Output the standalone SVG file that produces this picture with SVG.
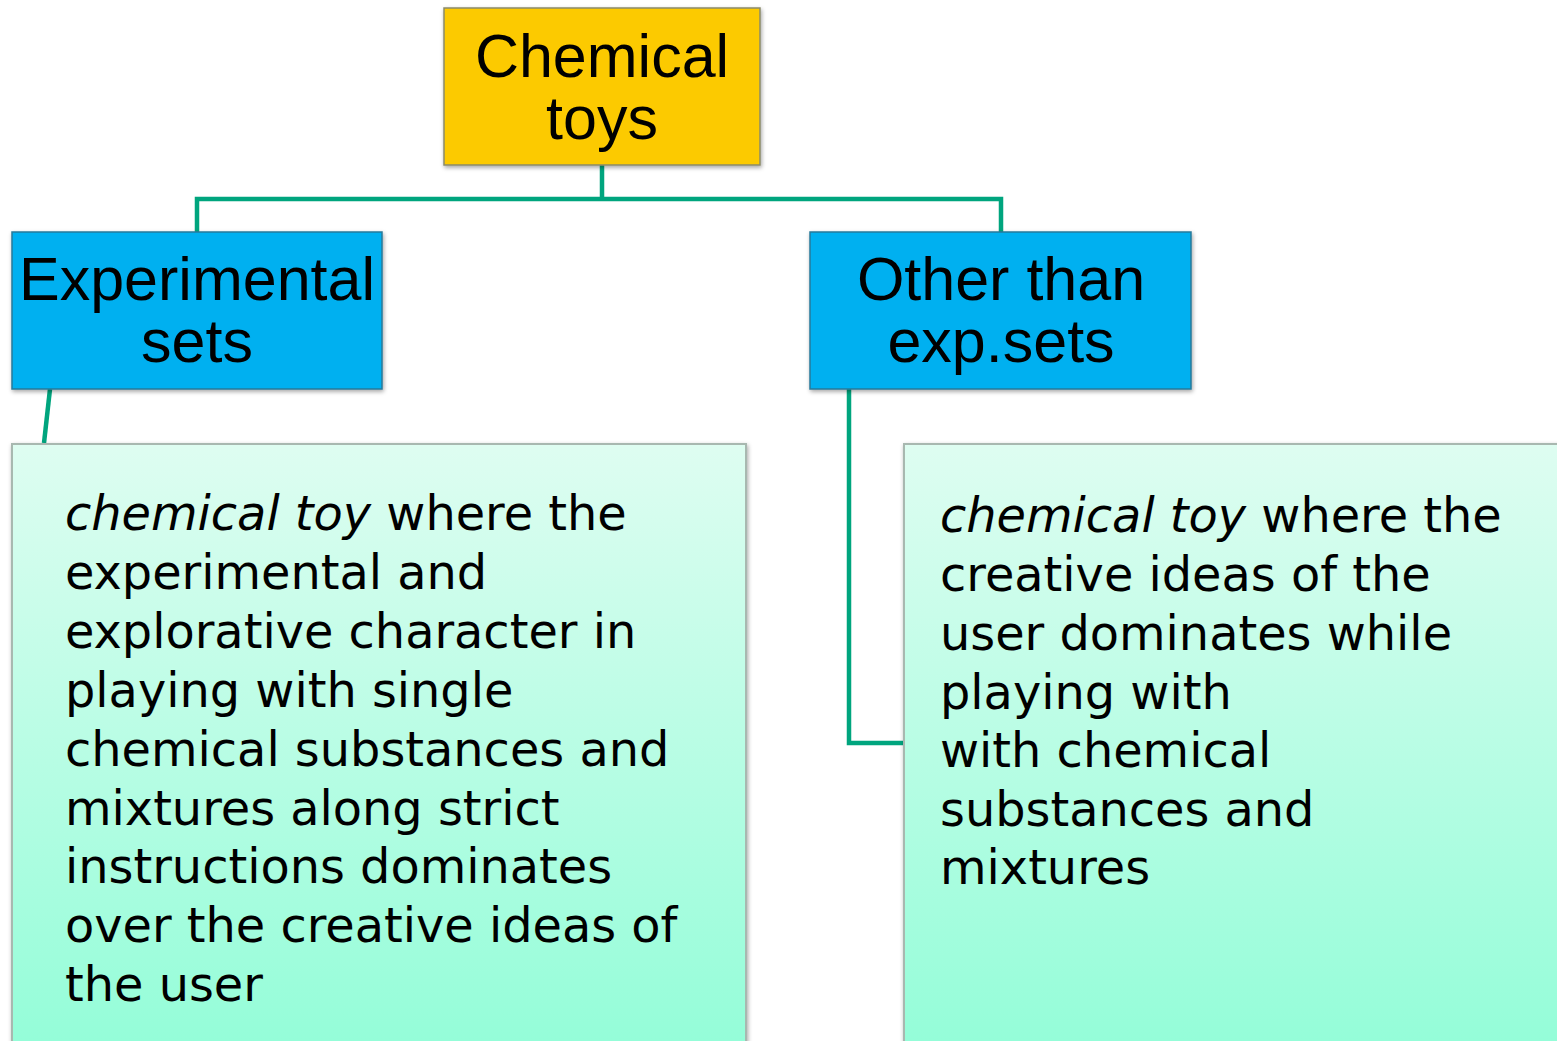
<svg xmlns="http://www.w3.org/2000/svg" width="1557" height="1041" viewBox="0 0 1557 1041">
<style>
.title{font-family:"Liberation Sans",Arial,sans-serif;font-size:61px;fill:#000;text-anchor:middle}
.body{font-family:"DejaVu Sans",Verdana,sans-serif;font-size:47.8px;fill:#000}
.conn{fill:none;stroke:#00A57E;stroke-width:4.5}
.hdr{stroke:#8a8a6a;stroke-width:1.5}
.desc{fill:url(#g);stroke:#a8b8b0;stroke-width:2}
</style>
<defs>
<linearGradient id="g" x1="0" y1="0" x2="0" y2="1">
<stop offset="0" stop-color="#DEFDF1"/>
<stop offset="1" stop-color="#93FDD8"/>
</linearGradient>
<filter id="sh" x="-5%" y="-5%" width="110%" height="115%">
<feDropShadow dx="1" dy="2" stdDeviation="2" flood-color="#000" flood-opacity="0.35"/>
</filter>
</defs>
<g id="connectors">
<path class="conn" d="M602 165 V199 M197 232 V199 H1001 V232"/>
<path class="conn" d="M50 389 L44 443"/>
<path class="conn" d="M849 389 V743 H904"/>
</g>
<g id="node-chemical-toys">
<rect x="444" y="8" width="316" height="157" fill="#FCCA05" class="hdr" filter="url(#sh)"/>
<text class="title" x="602" y="77">Chemical</text>
<text class="title" x="602" y="139">toys</text>
</g>
<g id="node-experimental-sets">
<rect x="12" y="232" width="370" height="157" fill="#00B0F0" stroke="#2a7a9a" stroke-width="1.5" filter="url(#sh)"/>
<text class="title" x="197" y="300">Experimental</text>
<text class="title" x="197" y="362">sets</text>
</g>
<g id="node-other-than">
<rect x="810" y="232" width="381" height="157" fill="#00B0F0" stroke="#2a7a9a" stroke-width="1.5" filter="url(#sh)"/>
<text class="title" x="1001" y="300">Other than</text>
<text class="title" x="1001" y="362">exp.sets</text>
</g>
<g id="node-exp-desc">
<rect x="12" y="444" width="734" height="610" class="desc" filter="url(#sh)"/>
<text class="body" x="65" y="530"><tspan font-style="italic">chemical toy</tspan> where the</text>
<text class="body" x="65" y="589">experimental and</text>
<text class="body" x="65" y="648">explorative character in</text>
<text class="body" x="65" y="707">playing with single</text>
<text class="body" x="65" y="766">chemical substances and</text>
<text class="body" x="65" y="825">mixtures along strict</text>
<text class="body" x="65" y="883">instructions dominates</text>
<text class="body" x="65" y="942">over the creative ideas of</text>
<text class="body" x="65" y="1001">the user</text>
</g>
<g id="node-other-desc">
<rect x="904" y="444" width="670" height="610" class="desc" filter="url(#sh)"/>
<text class="body" x="940" y="532"><tspan font-style="italic">chemical toy</tspan> where the</text>
<text class="body" x="940" y="591">creative ideas of the</text>
<text class="body" x="940" y="650">user dominates while</text>
<text class="body" x="940" y="709">playing with</text>
<text class="body" x="940" y="767">with chemical</text>
<text class="body" x="940" y="826">substances and</text>
<text class="body" x="940" y="884">mixtures</text>
</g>
</svg>
